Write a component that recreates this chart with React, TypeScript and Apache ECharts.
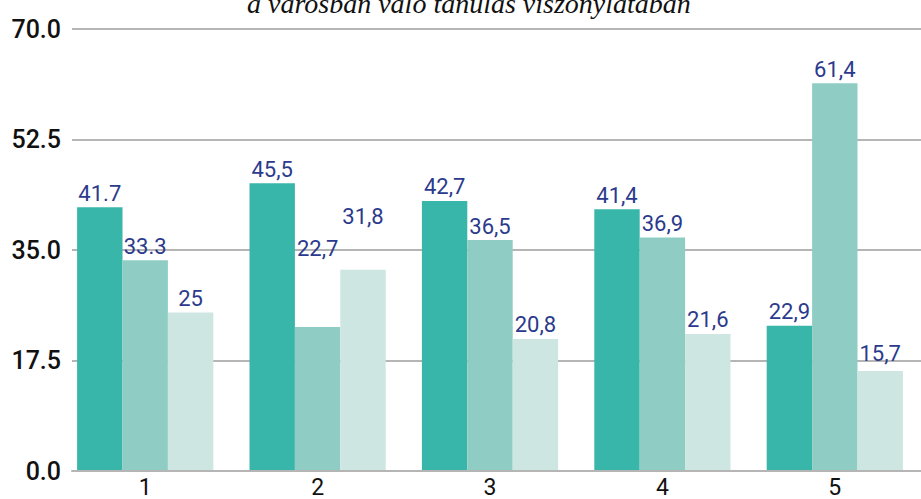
import React, { useEffect, useRef } from "react";
import * as echarts from "echarts";

const categories = ["1", "2", "3", "4", "5"];
const series1 = [41.7, 45.5, 42.7, 41.4, 22.9];
const series2 = [33.3, 22.7, 36.5, 36.9, 61.4];
const series3 = [25, 31.8, 20.8, 21.6, 15.7];
const labels1 = ["41.7", "45,5", "42,7", "41,4", "22,9"];
const labels2 = ["33.3", "22,7", "36,5", "36,9", "61,4"];
const labels3 = ["25", "31,8", "20,8", "21,6", "15,7"];
const yTicks = [0, 17.5, 35, 52.5, 70];
const title = "a városban való tanulás viszonylatában";

const colors = ["#39b6aa", "#8fcdc4", "#cde6e2"];
const labelColor = "#2b3a8c";

// label offsets in pixels (layout only)
const offsets2 = [0, -64, 0, 0, 0];
const offsets3 = [0, -39, 0, 0, -4];

export default function App() {
  const ref = useRef<HTMLDivElement>(null);
  useEffect(() => {
    if (!ref.current) return;
    const chart = echarts.init(ref.current, undefined, { renderer: "svg" });
    const mk = (name: string, vals: number[], labs: string[], color: string, offs?: number[]) => ({
      name,
      type: "bar",
      xAxisIndex: 1,
      yAxisIndex: 1,
      barGap: "0%",
      barCategoryGap: "21%",
      itemStyle: { color },
      data: vals.map((v, i) => ({
        value: v,
        label: offs && offs[i] ? { offset: [0, offs[i]] } : undefined,
      })),
      label: {
        show: true,
        position: "top",
        distance: 3,
        color: labelColor,
        fontFamily: "Roboto",
        fontSize: 22,
        formatter: (p: any) => labs[p.dataIndex],
      },
    });
    chart.setOption({
      animation: false,
      title: {
        text: title,
        left: 242,
        top: -16,
        textStyle: {
          fontFamily: "Liberation Serif",
          fontStyle: "italic",
          fontWeight: "normal",
          fontSize: 28,
          color: "#111",
        },
      },
      grid: [
        { left: 72, right: 0, top: 29, bottom: 28 },
        { left: 59, right: -1, top: 29, bottom: 28 },
      ],
      xAxis: [
        {
          gridIndex: 0,
          type: "category",
          data: categories,
          axisLine: { show: true, lineStyle: { color: "#b5b5b5", width: 2 } },
          axisTick: { show: false },
          axisLabel: { show: false },
        },
        {
          gridIndex: 1,
          type: "category",
          data: categories,
          axisLine: { show: false },
          axisTick: { show: false },
          axisLabel: {
            color: "#111",
            fontFamily: "Roboto",
            fontSize: 23,
            margin: 6,
          },
        },
      ],
      yAxis: [
        {
          gridIndex: 0,
          type: "value",
          min: 0,
          max: 70,
          interval: 17.5,
          axisLine: { show: false },
          axisTick: { show: false },
          splitLine: { lineStyle: { color: "#b5b5b5", width: 2 } },
          axisLabel: {
            margin: 11,
            color: "#111",
            fontFamily: "Roboto",
            fontWeight: 500,
            fontSize: 25,
            formatter: (v: number) =>
              yTicks.indexOf(v) >= 0 ? v.toFixed(1) : "",
          },
        },
        {
          gridIndex: 1,
          type: "value",
          min: 0,
          max: 70,
          interval: 17.5,
          show: false,
          splitLine: { show: false },
        },
      ],
      series: [
        mk("A", series1, labels1, colors[0]),
        mk("B", series2, labels2, colors[1], offsets2),
        mk("C", series3, labels3, colors[2], offsets3),
      ],
    });
    return () => chart.dispose();
  }, []);
  return <div ref={ref} style={{ width: 921, height: 499, position: "absolute", left: 0, top: 0 }} />;
}
